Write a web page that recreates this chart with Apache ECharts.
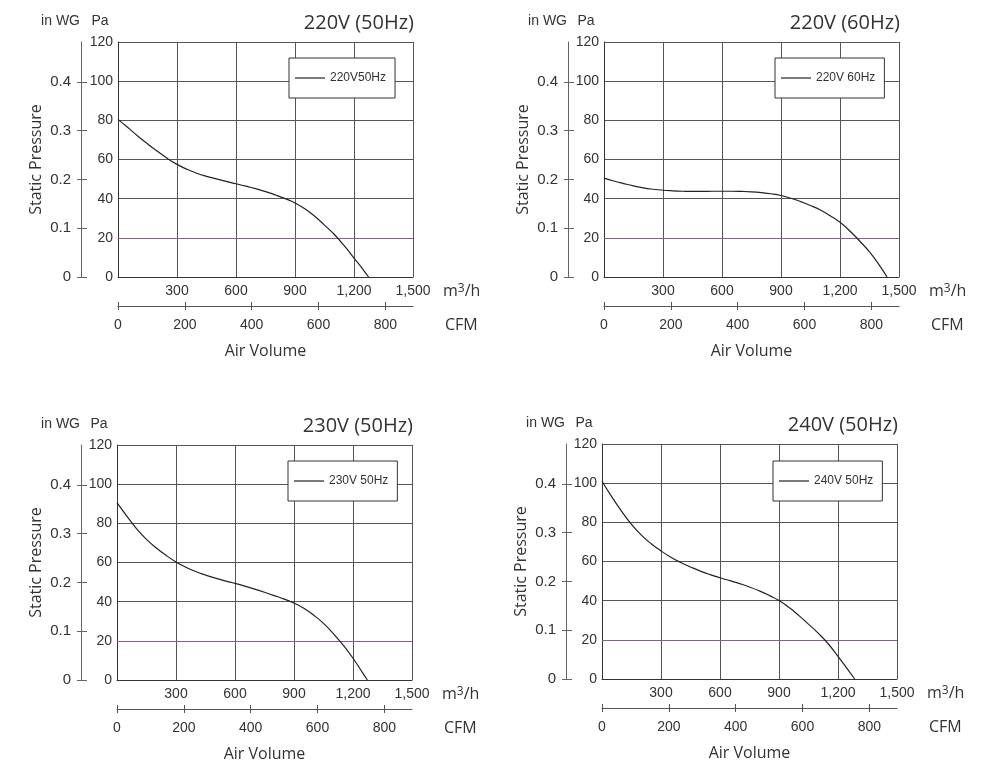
<!DOCTYPE html>
<html>
<head>
<meta charset="utf-8">
<script src="https://cdn.jsdelivr.net/npm/echarts@6/dist/echarts.min.js"></script>
<style>html,body{margin:0;padding:0;background:#fff;}#c{width:986px;height:769px;}</style>
</head>
<body>
<div id="c"></div>
<script>
// ---------- data ----------
const TITLES = ['220V (50Hz)', '220V (60Hz)', '230V (50Hz)', '240V (50Hz)'];
const LEGEND_NAMES = ['220V50Hz', '220V 60Hz', '230V 50Hz', '240V 50Hz'];

// [air volume m3/h, static pressure Pa]
const CURVE_220V_50HZ = [[0,80.5],[50,76.3],[100,72.0],[150,68.0],[200,64.2],[250,60.6],[300,57.5],[350,55.0],[400,53.0],[450,51.4],[500,50.1],[550,48.8],[600,47.6],[650,46.4],[700,45.1],[750,43.6],[800,41.9],[850,40.0],[900,37.8],[950,34.8],[1000,31.0],[1050,26.5],[1100,21.7],[1150,16.0],[1200,9.7],[1250,3.3],[1274,0]];
const CURVE_220V_60HZ = [[0,50.5],[50,49.0],[100,47.7],[150,46.5],[200,45.5],[250,44.8],[300,44.3],[350,44.0],[400,43.8],[450,43.7],[500,43.7],[550,43.8],[600,43.8],[650,43.8],[700,43.7],[750,43.5],[800,43.1],[850,42.5],[900,41.6],[950,40.2],[1000,38.5],[1050,36.5],[1100,34.2],[1150,31.3],[1200,28.0],[1250,23.5],[1300,18.4],[1350,12.8],[1400,6.1],[1439,0]];
const CURVE_230V_50HZ = [[0,90.6],[50,83.7],[100,77.2],[150,71.8],[200,67.4],[250,63.6],[300,60.3],[350,57.6],[400,55.4],[450,53.6],[500,52.0],[550,50.6],[600,49.3],[650,47.9],[700,46.4],[750,44.8],[800,43.1],[850,41.3],[900,39.3],[950,36.6],[1000,33.1],[1050,28.9],[1100,23.7],[1150,17.8],[1200,11.1],[1250,3.5],[1273,0]];
const CURVE_240V_50HZ = [[0,101],[50,93.0],[100,85.6],[150,79.0],[200,73.5],[250,69.1],[300,65.4],[350,62.2],[400,59.5],[450,57.2],[500,55.1],[550,53.3],[600,51.7],[650,50.2],[700,48.7],[750,47.0],[800,45.0],[850,42.7],[900,40.1],[950,36.6],[1000,32.5],[1050,28.0],[1100,23.3],[1150,18.0],[1200,11.6],[1250,4.8],[1285,0]];
const CURVES = [CURVE_220V_50HZ, CURVE_220V_60HZ, CURVE_230V_50HZ, CURVE_240V_50HZ];

const REF_PRESSURE = 20;            // Pa reference line
const PA_MAX = 120, PA_INTERVAL = 20;
const M3H_MAX = 1500, M3H_INTERVAL = 300;
const M3H_LABELS = [300, 600, 900, 1200, 1500];
const CFM_TICKS = [0, 200, 400, 600, 800];
const INWG_TICKS = [0, 0.1, 0.2, 0.3, 0.4];
const PA_PER_INWG = 249.089;
const M3H_PER_CFM = 1.69901;

// ---------- layout ----------
const PANELS = [
  {left:118, top:42,  inwgX:81,  legendLeft:289, legendTop:58},
  {left:604, top:42,  inwgX:568, legendLeft:775, legendTop:58},
  {left:117, top:445, inwgX:81,  legendLeft:288, legendTop:461},
  {left:602, top:444, inwgX:566, legendLeft:773, legendTop:461}
];
const GW = 295, GH = 235;
const NARROW = "'Liberation Sans', Arial, sans-serif";
const SANS = "'Open Sans', 'Noto Sans', sans-serif";
const TXT = '#333';
const GRIDC = '#555';

const option = {animation:false, backgroundColor:'#fff', grid:[], xAxis:[], yAxis:[], series:[], legend:[], graphic:[]};

PANELS.forEach((p, i) => {
  option.grid.push({left:p.left, top:p.top, width:GW, height:GH});
  // m3/h axis
  option.xAxis.push({
    gridIndex:i, type:'value', min:0, max:M3H_MAX, interval:M3H_INTERVAL, position:'bottom',
    axisLine:{show:true, onZero:false, lineStyle:{color:'#333', width:1}},
    axisTick:{show:false},
    axisLabel:{customValues:M3H_LABELS, formatter:v => v.toLocaleString('en-US'), margin:7, color:TXT, fontFamily:NARROW, fontSize:14},
    splitLine:{show:true, lineStyle:{color:GRIDC, width:1}}
  });
  // CFM axis (outer ticks + labels)
  option.xAxis.push({
    gridIndex:i, type:'value', min:0, max:M3H_MAX / M3H_PER_CFM, position:'bottom', offset:29,
    axisLine:{show:true, onZero:false, lineStyle:{color:'#555', width:1}},
    axisTick:{show:true, customValues:CFM_TICKS, length:4, lineStyle:{color:'#555'}},
    axisLabel:{customValues:CFM_TICKS, margin:12, color:TXT, fontFamily:NARROW, fontSize:14},
    splitLine:{show:false},
    name:'Air Volume', nameLocation:'middle', nameGap:37,
    nameTextStyle:{fontFamily:SANS, fontSize:16, color:TXT}
  });
  // CFM axis (inner ticks)
  option.xAxis.push({
    gridIndex:i, type:'value', min:0, max:M3H_MAX / M3H_PER_CFM, position:'bottom', offset:29,
    axisLine:{show:false, onZero:false},
    axisTick:{show:true, inside:true, customValues:CFM_TICKS, length:4, lineStyle:{color:'#555'}},
    axisLabel:{show:false}, splitLine:{show:false}
  });
  // Pa axis
  option.yAxis.push({
    gridIndex:i, type:'value', min:0, max:PA_MAX, interval:PA_INTERVAL, position:'left',
    axisLine:{show:true, onZero:false, lineStyle:{color:'#333', width:1}},
    axisTick:{show:false},
    axisLabel:{margin:5, color:TXT, fontFamily:NARROW, fontSize:14},
    splitLine:{show:true, lineStyle:{color:GRIDC, width:1}}
  });
  // in WG axis (outer ticks + labels)
  option.yAxis.push({
    gridIndex:i, type:'value', min:0, max:PA_MAX / PA_PER_INWG, position:'left', offset:p.left - p.inwgX,
    axisLine:{show:true, onZero:false, lineStyle:{color:'#666', width:1}},
    axisTick:{show:true, customValues:INWG_TICKS, length:4, lineStyle:{color:'#666'}},
    axisLabel:{customValues:INWG_TICKS, margin:10, color:TXT, fontFamily:NARROW, fontSize:15},
    splitLine:{show:false},
    name:'Static Pressure', nameLocation:'middle', nameGap:37,
    nameTextStyle:{fontFamily:SANS, fontSize:16, color:TXT}
  });
  // in WG axis (inner ticks)
  option.yAxis.push({
    gridIndex:i, type:'value', min:0, max:PA_MAX / PA_PER_INWG, position:'left', offset:p.left - p.inwgX,
    axisLine:{show:false, onZero:false},
    axisTick:{show:true, inside:true, customValues:INWG_TICKS, length:6, lineStyle:{color:'#666'}},
    axisLabel:{show:false}, splitLine:{show:false}
  });

  option.series.push({
    type:'line', name:LEGEND_NAMES[i], xAxisIndex:3*i, yAxisIndex:3*i, data:CURVES[i],
    smooth:0.5, symbol:'none', z:5,
    lineStyle:{color:'#222', width:1.2}, itemStyle:{color:'#222'},
    markLine:{silent:true, symbol:'none', label:{show:false},
      lineStyle:{color:'#8e5a8c', type:'solid', width:1},
      data:[{yAxis:REF_PRESSURE}]}
  });

  option.legend.push({
    data:[{name:LEGEND_NAMES[i], icon:'rect'}], left:p.legendLeft, top:p.legendTop, orient:'horizontal',
    padding:[13, 9, 13, 6], itemWidth:30, itemHeight:1.2, selectedMode:false,
    itemStyle:{color:'#222'},
    borderColor:'#333', borderWidth:1, backgroundColor:'#fff', borderRadius:0,
    textStyle:{fontFamily:NARROW, fontSize:12, color:TXT, lineHeight:14}
  });

  const right = p.left + GW, bottom = p.top + GH;
  const txt = (text, x, y, font, align, extra) => ({
    type:'text', x:x, y:y, z:10,
    style:Object.assign({text:text, fill:TXT, font:font, align:align, textAlign:align,
      verticalAlign:'middle', textVerticalAlign:'middle'}, extra || {})
  });
  option.graphic.push(txt(TITLES[i], right + 1, p.top - 19, "20px " + SANS, 'right'));
  option.graphic.push(txt('in WG', p.inwgX - 1, p.top - 21, "14px " + NARROW, 'right'));
  option.graphic.push(txt('Pa', p.left - 18, p.top - 21, "14px " + NARROW, 'center'));
  option.graphic.push(txt('{a|m}{s|3}{a|/h}', right + 30, bottom + 14, "16px " + SANS, 'left', {
    rich:{a:{fontSize:16, fontFamily:SANS, fill:TXT}, s:{fontSize:12, fontFamily:SANS, fill:TXT, verticalAlign:'top'}}
  }));
  option.graphic.push(txt('CFM', right + 32, bottom + 48, "16px " + SANS, 'left'));
});

const chart = echarts.init(document.getElementById('c'), null, {renderer:'canvas'});
chart.setOption(option);
</script>
</body>
</html>
